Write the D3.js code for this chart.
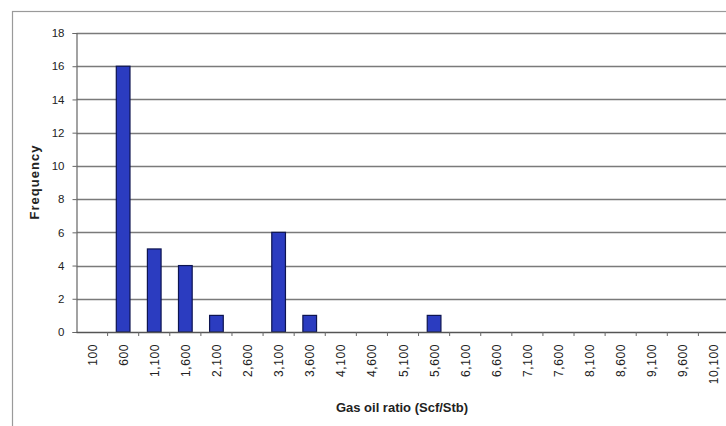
<!DOCTYPE html>
<html>
<head>
<meta charset="utf-8">
<script src="https://cdn.jsdelivr.net/npm/d3@7"></script>
<style>
  html, body { margin: 0; padding: 0; background: #fff; }
  svg { display: block; }
</style>
</head>
<body>
<svg id="chart" width="726" height="426"></svg>
<script>
const categories = ["100","600","1,100","1,600","2,100","2,600","3,100","3,600","4,100","4,600","5,100","5,600","6,100","6,600","7,100","7,600","8,100","8,600","9,100","9,600","10,100"];
const frequency = [0,16,5,4,1,0,6,1,0,0,0,1,0,0,0,0,0,0,0,0,0];
const yTicks = [0,2,4,6,8,10,12,14,16,18];
const xTitle = "Gas oil ratio (Scf/Stb)";
const yTitle = "Frequency";

const svg = d3.select("#chart");
const font = "Arimo, 'Liberation Sans', Arial, sans-serif";

// outer frame
svg.append("rect").attr("x", 12.5).attr("y", 11.5).attr("width", 800).attr("height", 500)
  .attr("fill", "#fff").attr("stroke", "#9a9a9a").attr("stroke-width", 1.2);

const x = d3.scaleBand().domain(categories).range([76.5, 729.5]).padding(0);
const y = d3.scaleLinear().domain([0, 18]).range([332, 33]);

// gridlines
svg.append("g").selectAll("line").data(yTicks.filter(d => d > 0)).join("line")
  .attr("x1", 76.5).attr("x2", 729.5)
  .attr("y1", d => Math.round(y(d)) + 0.5).attr("y2", d => Math.round(y(d)) + 0.5)
  .attr("stroke", "#7a7a7a").attr("stroke-width", 1.3);

// y axis
const yAxis = svg.append("g").attr("transform", "translate(76.5,0)")
  .call(d3.axisLeft(y).tickValues(yTicks).tickSize(4).tickPadding(8));
yAxis.select(".domain").attr("stroke", "#666").attr("stroke-width", 1.2);
yAxis.selectAll(".tick line").attr("stroke", "#666");
yAxis.selectAll("text").attr("font-family", font).attr("font-size", 11.5).attr("fill", "#222");

// bars
const barW = x.bandwidth() * 0.44;
svg.append("g").selectAll("rect").data(categories.map((c, i) => ({c, v: frequency[i]})).filter(d => d.v > 0)).join("rect")
  .attr("x", d => x(d.c) + (x.bandwidth() - barW) / 2)
  .attr("y", d => y(d.v))
  .attr("width", barW)
  .attr("height", d => y(0) - y(d.v))
  .attr("fill", "#2b3cc0").attr("stroke", "#0d1450").attr("stroke-width", 1.2);

// x axis
const xAxis = svg.append("g").attr("transform", `translate(0,${y(0)})`);
xAxis.append("line").attr("x1", 76.5).attr("x2", 729.5).attr("y1", 0.5).attr("y2", 0.5)
  .attr("stroke", "#555").attr("stroke-width", 1.4);
xAxis.selectAll("line.tk").data(categories.slice(1)).join("line").attr("class", "tk")
  .attr("x1", d => x(d)).attr("x2", d => x(d)).attr("y1", 0).attr("y2", 4)
  .attr("stroke", "#666");
xAxis.selectAll("text").data(categories).join("text")
  .attr("transform", d => `translate(${x(d) + x.bandwidth() / 2 + 4.5},12) rotate(-90)`)
  .attr("text-anchor", "end")
  .attr("font-family", font).attr("font-size", 12).attr("letter-spacing", 0.6).attr("fill", "#222")
  .text(d => d);

// titles
svg.append("text").attr("x", 402).attr("y", 412).attr("text-anchor", "middle")
  .attr("font-family", font).attr("font-size", 13).attr("font-weight", "bold").attr("fill", "#222")
  .text(xTitle);
svg.append("text").attr("transform", "translate(39,182) rotate(-90)").attr("text-anchor", "middle")
  .attr("font-family", font).attr("font-size", 13).attr("letter-spacing", 1).attr("font-weight", "bold").attr("fill", "#222")
  .text(yTitle);
</script>
</body>
</html>
